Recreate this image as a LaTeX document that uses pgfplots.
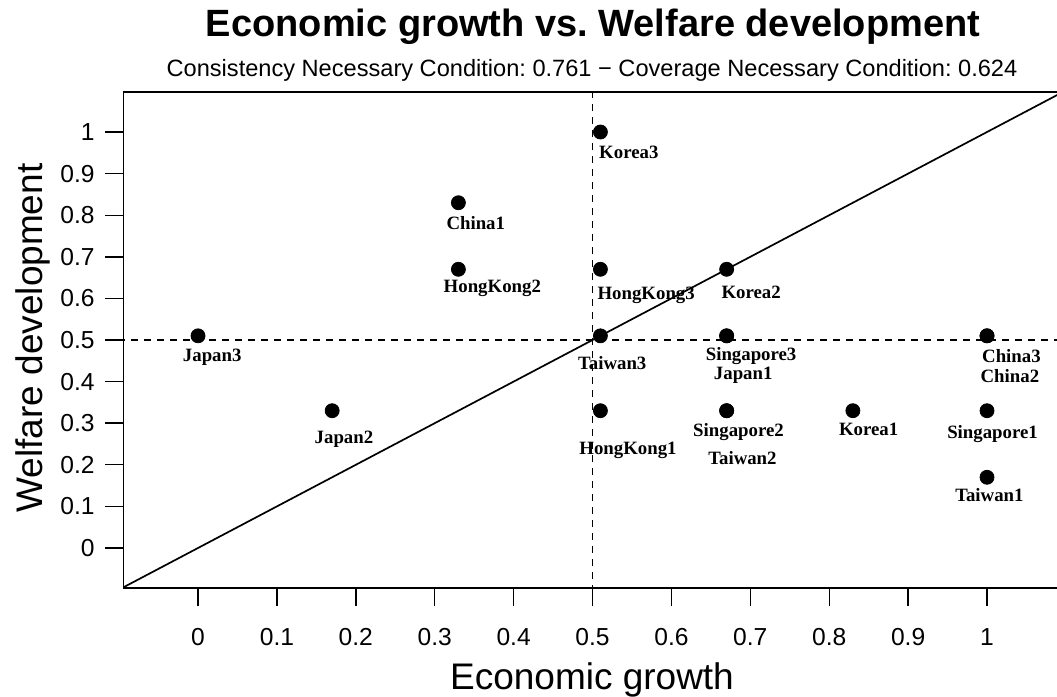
\documentclass[border=0pt]{standalone}
\usepackage{pgfplots}
\pgfplotsset{compat=1.18}
\usepackage{pgfplotstable}
\usepackage{fontspec}
\setmainfont{Liberation Sans}
\newfontfamily\casefont{Liberation Serif}
\frenchspacing

% fuzzy-set membership scores of each case
\pgfplotstableread{
x y
0.51 1.00
0.33 0.83
0.33 0.67
0.51 0.67
0.67 0.67
0.00 0.51
0.51 0.51
0.67 0.51
0.67 0.51
1.00 0.51
1.00 0.51
0.17 0.33
0.51 0.33
0.67 0.33
0.67 0.33
0.83 0.33
1.00 0.33
1.00 0.17
}\cases

% where each case name is written
\pgfplotstableread{
x y label
0.546 0.952 Korea3
0.352 0.781 China1
0.373 0.630 HongKong2
0.568 0.613 HongKong3
0.701 0.615 Korea2
0.018 0.464 Japan3
0.525 0.445 Taiwan3
0.701 0.466 Singapore3
0.691 0.421 Japan1
1.031 0.462 China3
1.029 0.413 China2
0.185 0.267 Japan2
0.545 0.240 HongKong1
0.685 0.284 Singapore2
0.690 0.216 Taiwan2
0.850 0.286 Korea1
1.007 0.279 Singapore1
1.003 0.127 Taiwan1
}\caselabels

\begin{document}
\begin{tikzpicture}
\useasboundingbox (0,0) rectangle (528.5pt,348.5pt);
\begin{axis}[
  at={(61.5pt,54.5pt)}, anchor=south west,
  scale only axis, width=467pt, height=248pt,
  xmin=-0.0951, xmax=1.0887, ymin=-0.0962, ymax=1.0962,
  axis x line=box, axis y line=left,
  axis line style={-},
  x axis line style={line width=1pt},
  y axis line style={line width=0.5pt},
  tick pos=left, tick align=outside, major tick length=9pt,
  tick style={line width=0.7pt, black},
  xtick={0,0.1,0.2,0.3,0.4,0.5,0.6,0.7,0.8,0.9,1},
  ytick={0,0.1,0.2,0.3,0.4,0.5,0.6,0.7,0.8,0.9,1},
  /pgf/number format/assume math mode=true,
  ticklabel style={font=\fontsize{12.3}{12.3}\selectfont},
  xticklabel style={anchor=north, inner sep=0pt, yshift=-11pt},
  yticklabel style={anchor=east, inner sep=0pt, xshift=-5pt},
]
\addplot[black, line width=0.85pt] coordinates {(-0.2,-0.2) (1.2,1.2)};
\addplot[black, line width=0.9pt, dash pattern=on 3.5pt off 3pt] coordinates {(0.5,-0.2) (0.5,1.2)};
\addplot[black, line width=0.9pt, dash pattern=on 3.5pt off 3pt] coordinates {(-0.2,0.5) (1.2,0.5)};
\addplot[only marks, mark=*, mark size=3.5pt, black] table {\cases};
\addplot[draw=none, mark=none, nodes near coords, point meta=explicit symbolic,
  nodes near coords style={font=\casefont\bfseries\fontsize{9.4}{10}\selectfont,
    anchor=center, inner sep=0pt, text height=1.5ex, text depth=0.25ex}]
  table[meta=label] {\caselabels};
\end{axis}
\node[anchor=base, font=\bfseries\fontsize{19}{20}\selectfont] at (296.5pt,330pt) {Economic growth vs. Welfare development};
\node[anchor=base, font=\fontsize{11.8}{13}\selectfont] at (296pt,310pt) {Consistency Necessary Condition: 0.761 − Coverage Necessary Condition: 0.624};
\node[anchor=base, font=\fontsize{18.5}{20}\selectfont] at (296pt,3.5pt) {Economic growth};
\node[rotate=90, anchor=base, font=\fontsize{18.5}{20}\selectfont] at (21pt,179.5pt) {Welfare development};
\end{tikzpicture}
\end{document}
